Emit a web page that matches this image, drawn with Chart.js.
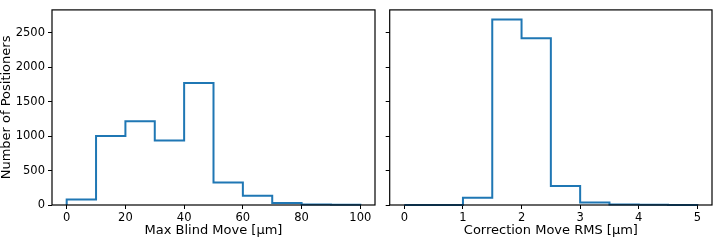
<!DOCTYPE html>
<html>
<head>
<meta charset="utf-8">
<script src="https://cdn.jsdelivr.net/npm/chart.js@4"></script>
<style>
  html, body { margin: 0; padding: 0; background: #fff; }
  #wrap { position: relative; width: 714px; height: 240px; overflow: hidden; }
  canvas { position: absolute; top: 0; }
</style>
</head>
<body>
<div id="wrap">
  <canvas id="blind" width="377" height="240" style="left:0"></canvas>
  <canvas id="corr" width="334" height="240" style="left:380px"></canvas>
</div>
<script>
// histogram bin edges and counts
var blindEdges = [0, 10, 20, 30, 40, 50, 60, 70, 80, 90, 100];
var blindCounts = [80, 1000, 1215, 935, 1768, 325, 135, 30, 8, 5];
var corrEdges = [0, 0.5, 1, 1.5, 2, 2.5, 3, 3.5, 4, 4.5, 5];
var corrCounts = [0, 0, 105, 2690, 2420, 275, 35, 8, 3, 1];

var blindTicks = [0, 20, 40, 60, 80, 100];
var corrTicks = [0, 1, 2, 3, 4, 5];
var yTicks = [0, 500, 1000, 1500, 2000, 2500];
var yMax = 2830;

var BLUE = '#1f77b4';
var FONT = 'DejaVu Sans';

// turn edges + counts into the outline of a step histogram
function stepPoints(edges, counts) {
  var pts = [{x: edges[0], y: 0}];
  for (var i = 0; i < counts.length; i++) {
    pts.push({x: edges[i], y: counts[i]});
    pts.push({x: edges[i + 1], y: counts[i]});
  }
  pts.push({x: edges[edges.length - 1], y: 0});
  return pts;
}

var frame = {
  id: 'frame',
  afterDatasetsDraw: function(chart) {
    var a = chart.chartArea, ctx = chart.ctx;
    ctx.save();
    ctx.strokeStyle = '#000';
    ctx.lineWidth = 1.2;
    ctx.strokeRect(a.left, a.top, a.right - a.left, a.bottom - a.top);
    ctx.restore();
  }
};

function makeChart(id, edges, counts, xTicks, xMin, xMax, xLabel, yWidth, showY, pad) {
  return new Chart(document.getElementById(id), {
    type: 'line',
    data: {
      datasets: [{
        data: stepPoints(edges, counts),
        borderColor: BLUE,
        borderWidth: 2,
        pointRadius: 0,
        tension: 0,
        fill: false,
        clip: false
      }]
    },
    options: {
      responsive: false,
      animation: false,
      devicePixelRatio: 1,
      layout: { padding: pad },
      plugins: { legend: { display: false }, tooltip: { enabled: false } },
      scales: {
        x: {
          type: 'linear',
          min: xMin,
          max: xMax,
          afterBuildTicks: function(s) { s.ticks = xTicks.map(function(v) { return {value: v}; }); },
          afterFit: function(s) { s.height = 35; },
          border: { display: false },
          grid: { drawOnChartArea: false, drawTicks: true, tickLength: 4, color: '#000', lineWidth: 1 },
          ticks: { color: '#000', padding: 2, maxRotation: 0, font: { family: FONT, size: 11.5 } },
          title: {
            display: true, text: xLabel, color: '#000',
            padding: { top: 0, bottom: 2.5 },
            font: { family: FONT, size: 13, lineHeight: 1 }
          }
        },
        y: {
          min: 0,
          max: yMax,
          afterBuildTicks: function(s) { s.ticks = yTicks.map(function(v) { return {value: v}; }); },
          afterFit: function(s) { s.width = yWidth; },
          border: { display: false },
          grid: { drawOnChartArea: false, drawTicks: true, tickLength: 4, color: '#000', lineWidth: 1 },
          ticks: {
            color: '#000', padding: 3, font: { family: FONT, size: 11.5 },
            callback: function(v) { return showY ? String(v) : ''; }
          },
          title: {
            display: showY, text: 'Number of Positioners', color: '#000',
            padding: 0,
            font: { family: FONT, size: 13, lineHeight: 1 }
          }
        }
      }
    },
    plugins: [frame]
  });
}

makeChart('blind', blindEdges, blindCounts, blindTicks, -5, 105, 'Max Blind Move [μm]', 52, true,
  { top: 1, right: 2, bottom: 0, left: 0 });
makeChart('corr', corrEdges, corrCounts, corrTicks, -0.25, 5.25, 'Correction Move RMS [μm]', 9.7, false,
  { top: 1, right: 2, bottom: 0, left: 0 });
</script>
</body>
</html>
